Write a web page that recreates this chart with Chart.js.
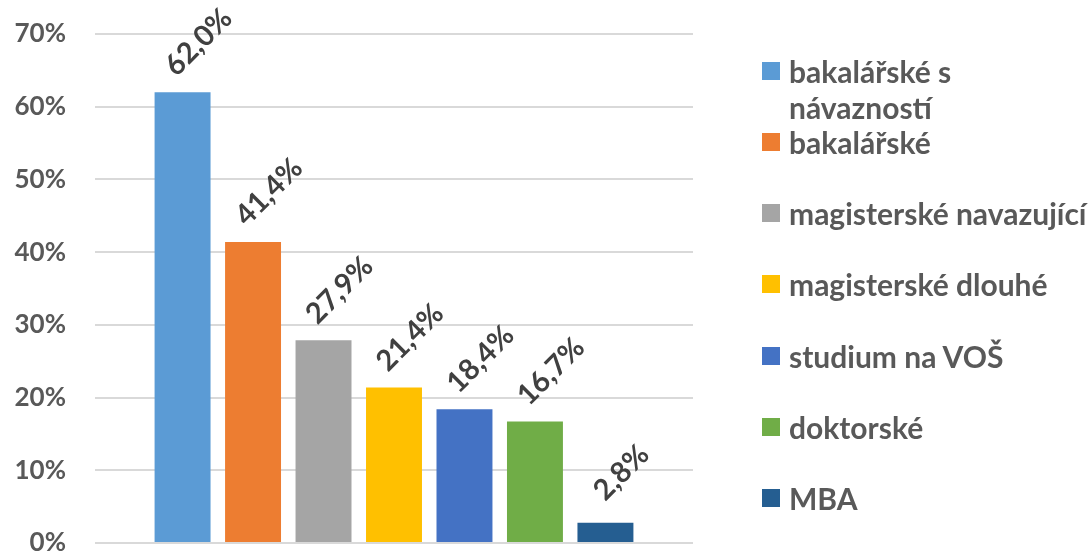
<!DOCTYPE html>
<html lang="cs">
<head>
<meta charset="utf-8">
<script src="https://cdn.jsdelivr.net/npm/chart.js@4"></script>
<style>
  html, body { margin: 0; padding: 0; background: #fff; overflow: hidden; }
  #wrap { position: relative; width: 1089px; height: 560px; }
  #legend { position: absolute; left: 762px; top: 0; width: 327px; height: 551px;
    font-family: Lato, "Open Sans", sans-serif; font-weight: bold; font-size: 30px; color: #595959; }
  .item { position: absolute; left: 0; white-space: nowrap; }
  .box { position: absolute; left: 0; width: 18px; height: 18px; }
  .txt { position: absolute; left: 27px; line-height: 36px; }
</style>
</head>
<body>
<div id="wrap">
  <canvas id="chart" width="1089" height="560"></canvas>
  <div id="legend"></div>
</div>
<script>
const seriesNames = [["bakalářské s", "návazností"], "bakalářské", "magisterské navazující",
  "magisterské dlouhé", "studium na VOŠ", "doktorské", "MBA"];
const values = [62.0, 41.4, 27.9, 21.4, 18.4, 16.7, 2.8];
const colors = ["#5B9BD5", "#ED7D31", "#A5A5A5", "#FFC000", "#4472C4", "#70AD47", "#255E91"];
const yTicks = [0, 10, 20, 30, 40, 50, 60, 70];

const fmt = v => v.toFixed(1).replace(".", ",") + "%";

// popisky nad sloupci, otočené o 45°
const barLabels = {
  id: "barLabels",
  afterDatasetsDraw(chart) {
    const ctx = chart.ctx;
    ctx.save();
    ctx.font = "bold 29px Lato, 'Open Sans', sans-serif";
    ctx.fillStyle = "#404040";
    ctx.textAlign = "center";
    ctx.textBaseline = "middle";
    chart.data.datasets.forEach((ds, i) => {
      const bar = chart.getDatasetMeta(i).data[0];
      ctx.save();
      ctx.translate(bar.x + 16, bar.y - 50);
      ctx.rotate(-Math.PI / 4);
      ctx.fillText(fmt(ds.data[0]), 0, 0);
      ctx.restore();
    });
    ctx.restore();
  }
};

const chart = new Chart(document.getElementById("chart"), {
  type: "bar",
  data: {
    labels: [""],
    datasets: values.map((v, i) => ({
      label: Array.isArray(seriesNames[i]) ? seriesNames[i].join(" ") : seriesNames[i],
      data: [v],
      backgroundColor: colors[i],
      categoryPercentage: 0.825,
      barPercentage: 0.794
    }))
  },
  options: {
    responsive: false,
    animation: false,
    layout: { padding: { top: 34, right: 396, bottom: 17, left: 0 } },
    plugins: { legend: { display: false }, tooltip: { enabled: false } },
    scales: {
      x: { display: false },
      y: {
        min: 0, max: 70,
        afterBuildTicks: s => { s.ticks = yTicks.map(v => ({ value: v })); },
        afterFit: s => { s.width = 95; s.paddingTop = 0; s.paddingBottom = 0; },
        border: { display: false },
        grid: { color: "#D9D9D9", lineWidth: 2, drawTicks: false },
        ticks: {
          padding: 29,
          color: "#595959",
          font: { family: "Lato, 'Open Sans', sans-serif", weight: "bold", size: 26 },
          callback: v => v + "%"
        }
      }
    }
  },
  plugins: [barLabels]
});

// legenda vpravo
const legend = document.getElementById("legend");
chart.data.datasets.forEach((ds, i) => {
  const c = 70.5 + i * 71.3;
  const name = seriesNames[i];
  const lines = Array.isArray(name) ? name : [name];
  legend.innerHTML += `<div class="item" style="top:${c - 18}px">
    <div class="box" style="top:9px;background:${ds.backgroundColor}"></div>
    <div class="txt">${lines.join("<br>")}</div></div>`;
});
</script>
</body>
</html>
